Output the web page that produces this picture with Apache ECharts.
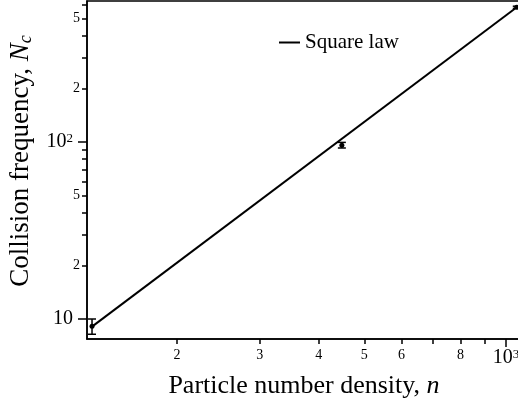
<!DOCTYPE html>
<html>
<head>
<meta charset="utf-8">
<script src="https://cdn.jsdelivr.net/npm/echarts@6/dist/echarts.min.js"></script>
<style>
  html, body { margin: 0; padding: 0; background: #fff; }
  #chart { width: 518px; height: 407px; }
</style>
</head>
<body>
<div id="chart"></div>
<script>
// Measured collision frequency against particle number density
var densities = [132, 448, 1054];
var frequencies = [9.1, 96, 577];
var frequencyErrors = [0.9, 3.5, 8];

// Square-law fit, drawn between its two end points
var fitDensity = [132, 1054];
var fitFrequency = [9.06, 577];
var fitName = 'Square law';

// Tick positions and labels
var xMajorTicks = [1000];
var xMinorTicks = [200, 300, 400, 500, 600, 700, 800, 900];
var xMinorLabels = [200, 300, 400, 500, 600, 800];
var yMajorTicks = [10, 100];
var yMinorTicks = [20, 30, 40, 50, 60, 70, 80, 90, 200, 300, 400, 500, 600];
var yMinorLabels = [20, 50, 200, 500];

var FONT = '"Liberation Serif", "Times New Roman", Times, serif';

function leadDigit(v) {
  var p = Math.pow(10, Math.floor(Math.log10(v) + 1e-9));
  return String(Math.round(v / p));
}
function powerLabel(v) {
  var e = Math.round(Math.log10(v));
  return e === 1 ? '{m|10}' : '{m|10}{s|' + e + '}';
}

var errorRows = densities.map(function (n, i) {
  return [n, frequencies[i], frequencyErrors[i]];
});
var fitRows = fitDensity.map(function (n, i) { return [n, fitFrequency[i]]; });

var xMin = 128.8, xMax = 1076;
var yMin = 7.71, yMax = 626;

var chart = echarts.init(document.getElementById('chart'), null, { renderer: 'canvas' });

var majorRich = {
  m: { fontSize: 20, fontFamily: FONT, color: '#000' },
  s: { fontSize: 13, fontFamily: FONT, color: '#000', verticalAlign: 'top' }
};

chart.setOption({
  animation: false,
  backgroundColor: '#fff',
  grid: {
    left: 87, top: 1, width: 434, height: 338,
    outerBoundsMode: 'none', containLabel: false,
    show: true, borderColor: '#000', borderWidth: 1.5, backgroundColor: 'transparent'
  },
  legend: {
    data: [fitName],
    left: 279, top: 32, padding: 0,
    icon: 'rect', itemWidth: 21, itemHeight: 2,
    itemStyle: { color: '#000' },
    textStyle: { fontFamily: FONT, fontSize: 21, color: '#000' }
  },
  xAxis: [
    {
      type: 'log', min: xMin, max: xMax, position: 'bottom',
      name: '{a|Particle number density, }{i|n}',
      nameLocation: 'middle', nameGap: 32,
      nameTextStyle: {
        rich: {
          a: { fontSize: 26, fontFamily: FONT, color: '#000' },
          i: { fontSize: 26, fontFamily: FONT, fontStyle: 'italic', color: '#000' }
        }
      },
      axisLine: { show: true, lineStyle: { color: '#000', width: 1.5 } },
      axisTick: { show: true, inside: false, length: 8, customValues: xMajorTicks, lineStyle: { color: '#000', width: 1.5 } },
      axisLabel: {
        customValues: xMajorTicks, margin: 9, formatter: powerLabel, rich: majorRich
      },
      splitLine: { show: false }, minorTick: { show: false }
    },
    {
      type: 'log', min: xMin, max: xMax, position: 'bottom',
      axisLine: { show: false },
      axisTick: { show: true, inside: false, length: 5, customValues: xMinorTicks, lineStyle: { color: '#000', width: 1.5 } },
      axisLabel: {
        customValues: xMinorLabels, margin: 9, formatter: leadDigit,
        fontSize: 14, fontFamily: FONT, color: '#000'
      },
      splitLine: { show: false }
    }
  ],
  yAxis: [
    {
      type: 'log', min: yMin, max: yMax, position: 'left',
      name: '{a|Collision frequency, }{i|N}{s|c}',
      nameLocation: 'middle', nameGap: 44, nameRotate: 90,
      nameTextStyle: {
        padding: [0, 0, 0, 18],
        rich: {
          a: { fontSize: 27, lineHeight: 30, fontFamily: FONT, color: '#000' },
          i: { fontSize: 27, lineHeight: 30, fontFamily: FONT, fontStyle: 'italic', color: '#000' },
          s: { fontSize: 18, lineHeight: 17, fontFamily: FONT, fontStyle: 'italic', color: '#000', verticalAlign: 'bottom' }
        }
      },
      axisLine: { show: true, lineStyle: { color: '#000', width: 1.5 } },
      axisTick: { show: true, inside: false, length: 9, customValues: yMajorTicks, lineStyle: { color: '#000', width: 1.5 } },
      axisLabel: {
        customValues: yMajorTicks, margin: 14, formatter: powerLabel, rich: majorRich
      },
      splitLine: { show: false }, minorTick: { show: false }
    },
    {
      type: 'log', min: yMin, max: yMax, position: 'left',
      axisLine: { show: false },
      axisTick: { show: true, inside: false, length: 5, customValues: yMinorTicks, lineStyle: { color: '#000', width: 1.5 } },
      axisLabel: {
        customValues: yMinorLabels, margin: 7, formatter: leadDigit,
        fontSize: 14, fontFamily: FONT, color: '#000'
      },
      splitLine: { show: false }
    }
  ],
  series: [
    {
      name: fitName, type: 'line', xAxisIndex: 0, yAxisIndex: 0,
      data: fitRows, showSymbol: false, symbol: 'none',
      lineStyle: { color: '#000', width: 2 },
      itemStyle: { color: '#000' }
    },
    {
      name: 'measured', type: 'custom', xAxisIndex: 0, yAxisIndex: 0,
      data: errorRows, encode: { x: 0, y: 1 }, clip: false,
      renderItem: function (params, api) {
        var n = api.value(0), v = api.value(1), e = api.value(2);
        var hi = api.coord([n, v + e]);
        var lo = api.coord([n, v - e]);
        var c = api.coord([n, v]);
        var cap = 4;
        var st = { stroke: '#000', lineWidth: 1.5 };
        return {
          type: 'group',
          children: [
            { type: 'line', shape: { x1: hi[0], y1: hi[1], x2: lo[0], y2: lo[1] }, style: st },
            { type: 'line', shape: { x1: hi[0] - cap, y1: hi[1], x2: hi[0] + cap, y2: hi[1] }, style: st },
            { type: 'line', shape: { x1: lo[0] - cap, y1: lo[1], x2: lo[0] + cap, y2: lo[1] }, style: st },
            { type: 'circle', shape: { cx: c[0], cy: c[1], r: 2.5 }, style: { fill: '#000' } }
          ]
        };
      }
    }
  ]
});
</script>
</body>
</html>
